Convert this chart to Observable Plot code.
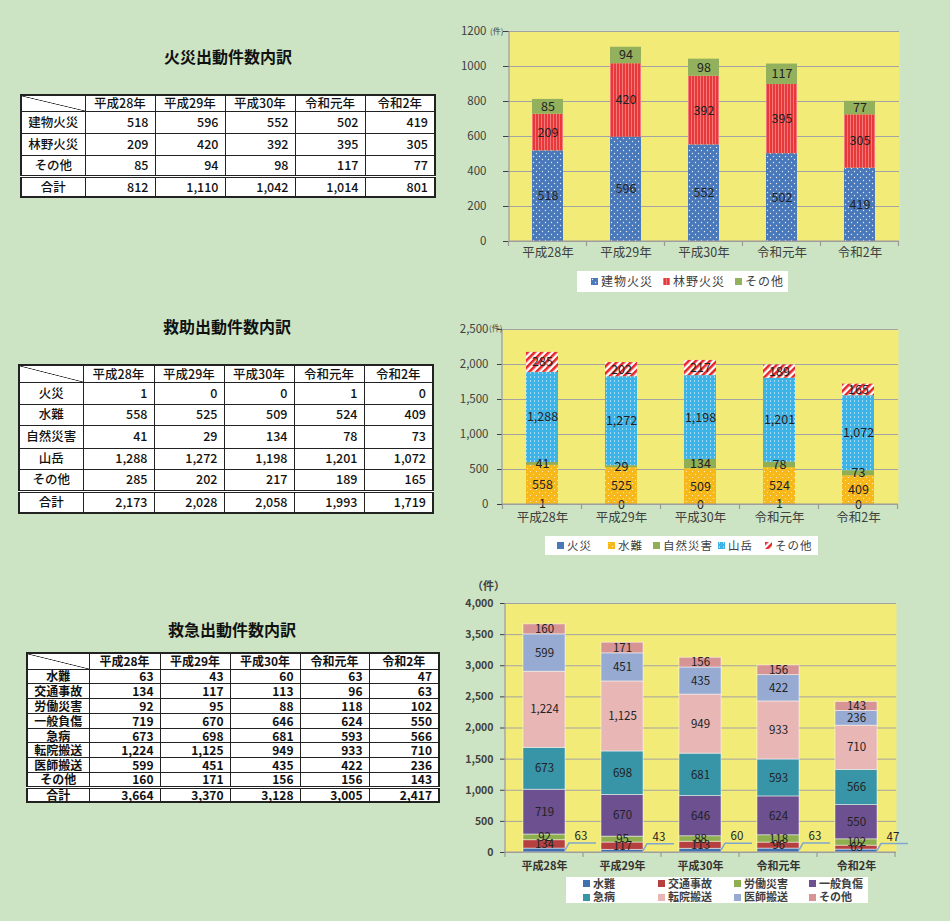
<!DOCTYPE html>
<html><head><meta charset="utf-8">
<script src="https://cdn.jsdelivr.net/npm/d3@7"></script>
<script src="https://cdn.jsdelivr.net/npm/@observablehq/plot@0.6"></script>
<style>
body{margin:0;background:#cce4c3;}
#page{position:relative;width:950px;height:921px;background:#cce4c3;overflow:hidden;font-family:"Noto Sans CJK JP","Noto Sans",sans-serif;}
.title{position:absolute;font-size:16px;font-weight:bold;color:#111;white-space:nowrap;transform:translateX(-50%);line-height:1.2;}
table.t{position:absolute;border-collapse:collapse;table-layout:fixed;background:#fff;border:2px solid #222;color:#111;}
table.t td{border:1px solid #222;padding:0 6px 0 2px;white-space:nowrap;overflow:visible;line-height:1;text-align:right;}
table.t td.c{text-align:center;padding:0;}
table.t tr.total td{border-top:3px double #222;}
table.t td.diag{background:linear-gradient(to top right, transparent calc(50% - 0.7px), #222 50%, transparent calc(50% + 0.7px));}
.chart{position:absolute;}
.legend{position:absolute;background:#fff;}
.legend .it{position:absolute;white-space:nowrap;line-height:1.2;color:#404040;}
.legend svg{position:absolute;}
.unit{position:absolute;white-space:nowrap;color:#404040;line-height:1.2;}
</style></head>
<body>
<svg width="0" height="0" style="position:absolute">
<defs>
<pattern id="dotsBlue" width="6" height="6" patternUnits="userSpaceOnUse">
<rect width="6" height="6" fill="#4a79bb"/>
<circle cx="1.5" cy="1.5" r="0.7" fill="#fff" opacity="0.85"/>
<circle cx="4.5" cy="4.5" r="0.7" fill="#fff" opacity="0.85"/>
</pattern>
<pattern id="redTex" width="3" height="3" patternUnits="userSpaceOnUse">
<rect width="3" height="3" fill="#e8383a"/>
<rect width="1" height="3" fill="#f48a8a" opacity="0.8"/>
</pattern>
<pattern id="dotsOrange" width="6" height="6" patternUnits="userSpaceOnUse">
<rect width="6" height="6" fill="#f6b81a"/>
<circle cx="1.5" cy="1.5" r="0.6" fill="#fff" opacity="0.8"/>
<circle cx="4.5" cy="4.5" r="0.6" fill="#fff" opacity="0.8"/>
</pattern>
<pattern id="dotsCyan" width="4" height="4" patternUnits="userSpaceOnUse">
<rect width="4" height="4" fill="#3cb4e8"/>
<rect x="1" y="0" width="1" height="2" fill="#a9def6" opacity="0.9"/>
</pattern>
<pattern id="redStripes" width="5" height="5" patternUnits="userSpaceOnUse" patternTransform="rotate(45)">
<rect width="5" height="5" fill="#fff"/>
<rect width="2.6" height="5" fill="#e8262a"/>
</pattern>
</defs>
</svg>
<div id="page"></div>
<script>
// ---------- DATA ----------
const years = ["平成28年", "平成29年", "平成30年", "令和元年", "令和2年"];

// 火災
const fireCats = ["建物火災", "林野火災", "その他"];
const fireBuilding = [518, 596, 552, 502, 419];
const fireForest = [209, 420, 392, 395, 305];
const fireOther = [85, 94, 98, 117, 77];
const fireTotal = [812, 1110, 1042, 1014, 801];
const fireTicks = [0, 200, 400, 600, 800, 1000, 1200];

// 救助
const rescueCats = ["火災", "水難", "自然災害", "山岳", "その他"];
const rescueFire = [1, 0, 0, 1, 0];
const rescueWater = [558, 525, 509, 524, 409];
const rescueNatural = [41, 29, 134, 78, 73];
const rescueMountain = [1288, 1272, 1198, 1201, 1072];
const rescueOther = [285, 202, 217, 189, 165];
const rescueTotal = [2173, 2028, 2058, 1993, 1719];
const rescueTicks = [0, 500, 1000, 1500, 2000, 2500];

// 救急
const emsCats = ["水難", "交通事故", "労働災害", "一般負傷", "急病", "転院搬送", "医師搬送", "その他"];
const emsWater = [63, 43, 60, 63, 47];
const emsTraffic = [134, 117, 113, 96, 63];
const emsWork = [92, 95, 88, 118, 102];
const emsInjury = [719, 670, 646, 624, 550];
const emsIllness = [673, 698, 681, 593, 566];
const emsTransfer = [1224, 1125, 949, 933, 710];
const emsDoctor = [599, 451, 435, 422, 236];
const emsOther = [160, 171, 156, 156, 143];
const emsTotal = [3664, 3370, 3128, 3005, 2417];
const emsTicks = [0, 500, 1000, 1500, 2000, 2500, 3000, 3500, 4000];

// ---------- STYLE ----------
const YELLOW = "#f3eb78";
const GRID = "#a3a3a3";
const AXIS = "#9a9a9a";
const FONT = '"Noto Sans CJK JP","Noto Sans",sans-serif';
const fireColors = ["url(#dotsBlue)", "url(#redTex)", "#93b05c"];
const rescueColors = ["#4a79bb", "url(#dotsOrange)", "#92ae54", "url(#dotsCyan)", "url(#redStripes)"];
const emsColors = ["#3f70b2", "#b5403f", "#8eae50", "#6c5090", "#3894a7", "#e7b6b5", "#96aad2", "#d69494"];

const page = document.getElementById("page");
const fmt = d3.format(",");

function longRows(cats, series) {
  const rows = [];
  cats.forEach((c, ci) => years.forEach((y, i) => rows.push({year: y, cat: c, value: series[ci][i]})));
  return rows;
}

function addTitle(text, cx, top) {
  const d = document.createElement("div");
  d.className = "title"; d.textContent = text;
  d.style.left = cx + "px"; d.style.top = top + "px";
  page.appendChild(d);
}

function makeTable(cfg) {
  const t = document.createElement("table");
  t.className = "t";
  t.style.left = cfg.left + "px"; t.style.top = cfg.top + "px";
  t.style.width = d3.sum(cfg.colWidths) + "px";
  t.style.fontSize = cfg.fontSize + "px";
  t.style.fontWeight = cfg.weight;
  const cg = document.createElement("colgroup");
  cfg.colWidths.forEach(w => { const c = document.createElement("col"); c.style.width = w + "px"; cg.appendChild(c); });
  t.appendChild(cg);
  let tr = t.insertRow(); tr.style.height = cfg.headH + "px";
  let td = tr.insertCell(); td.className = "diag c";
  years.forEach(y => { const c = tr.insertCell(); c.className = "c"; c.textContent = y; });
  cfg.cats.forEach((cat, ri) => {
    tr = t.insertRow(); tr.style.height = cfg.rowH[ri] + "px";
    const l = tr.insertCell(); l.className = "c"; l.textContent = cat;
    cfg.series[ri].forEach(v => { const c = tr.insertCell(); c.textContent = fmt(v); });
  });
  tr = t.insertRow(); tr.className = "total"; tr.style.height = cfg.totalH + "px";
  const l = tr.insertCell(); l.className = "c"; l.textContent = "合計";
  cfg.total.forEach(v => { const c = tr.insertCell(); c.textContent = fmt(v); });
  page.appendChild(t);
}

// axis decoration: left/bottom lines and category boundary ticks
function decor(scales, dims) {
  const {width, height, marginLeft, marginRight, marginTop, marginBottom} = dims;
  const x0 = marginLeft, x1 = width - marginRight, yb = height - marginBottom;
  const g = d3.create("svg:g").attr("stroke", AXIS).attr("stroke-width", 1.2);
  g.append("line").attr("x1", x0).attr("x2", x0).attr("y1", marginTop).attr("y2", yb);
  g.append("line").attr("x1", x0).attr("x2", x1).attr("y1", yb).attr("y2", yb);
  const xs = scales.x, step = xs.step(), bw = xs.bandwidth();
  const bounds = years.map(y => xs(y) + bw / 2 - step / 2);
  bounds.push(xs(years[years.length - 1]) + bw / 2 + step / 2);
  bounds.forEach(b => g.append("line").attr("x1", b).attr("x2", b).attr("y1", yb).attr("y2", yb + 5));
  return g;
}

function addChart(node, left, top) {
  const d = document.createElement("div");
  d.className = "chart"; d.style.left = left + "px"; d.style.top = top + "px";
  d.appendChild(node);
  page.appendChild(d);
}

function addLegend(cfg) {
  const box = document.createElement("div");
  box.className = "legend";
  Object.assign(box.style, {left: cfg.left + "px", top: cfg.top + "px", width: cfg.width + "px", height: cfg.height + "px"});
  cfg.cats.forEach((c, i) => {
    const [sx, sy] = cfg.pos[i];
    const s = document.createElementNS("http://www.w3.org/2000/svg", "svg");
    s.setAttribute("width", 7); s.setAttribute("height", 7);
    s.style.left = sx + "px"; s.style.top = (sy - 3.5) + "px";
    const r = document.createElementNS("http://www.w3.org/2000/svg", "rect");
    r.setAttribute("width", 7); r.setAttribute("height", 7); r.setAttribute("fill", cfg.colors[i]);
    s.appendChild(r); box.appendChild(s);
    const t = document.createElement("div");
    t.className = "it"; t.textContent = c;
    Object.assign(t.style, {left: (sx + 10) + "px", top: (sy - cfg.fontSize * 0.6) + "px", fontSize: cfg.fontSize + "px", fontWeight: cfg.weight || "normal", letterSpacing: (cfg.spacing || 0) + "px"});
    box.appendChild(t);
  });
  page.appendChild(box);
}

function addUnit(text, left, top, size, weight) {
  const d = document.createElement("div");
  d.className = "unit"; d.textContent = text;
  Object.assign(d.style, {left: left + "px", top: top + "px", fontSize: size + "px", fontWeight: weight || "normal"});
  page.appendChild(d);
}

// ---------- SECTION 1: 火災 ----------
addTitle("火災出動件数内訳", 228, 47);
makeTable({left: 20, top: 94, colWidths: [64, 70, 70, 70, 70, 70], headH: 16, rowH: [22, 22, 21], totalH: 21,
  cats: fireCats, series: [fireBuilding, fireForest, fireOther], total: fireTotal, fontSize: 12.5, weight: 500});

const fireRows = longRows(fireCats, [fireBuilding, fireForest, fireOther]);
const chart1 = Plot.plot({
  width: 470, height: 246, marginLeft: 64, marginRight: 16, marginTop: 11, marginBottom: 25,
  style: {background: "transparent", fontFamily: FONT, fontSize: "11.5px", color: "#404040", overflow: "visible"},
  x: {domain: years, paddingInner: 0.6, paddingOuter: 0.3, axis: null},
  y: {domain: [0, 1200], ticks: fireTicks, tickFormat: d3.format("d"), label: null, tickSize: 6, tickPadding: 17},
  color: {domain: fireCats, range: fireColors},
  marks: [
    Plot.frame({fill: YELLOW, stroke: null}),
    Plot.ruleY(fireTicks, {stroke: GRID}),
    Plot.barY(fireRows, Plot.stackY({x: "year", y: "value", fill: "cat"})),
    Plot.text(fireRows, Plot.stackY({x: "year", y: "value", z: "cat", text: "value", fill: "#222", fontSize: 12.5})),
    Plot.text(years, {x: d => d, frameAnchor: "bottom", dy: 15, fontSize: 12.5, fill: "#404040"}),
    (index, scales, values, dims) => decor(scales, dims).node()
  ]
});
addChart(chart1, 445, 20);
addUnit("(件)", 490, 26, 8);
addLegend({left: 577, top: 271, width: 211, height: 21, cats: fireCats, colors: fireColors,
  pos: [[14, 10.5], [86, 10.5], [158, 10.5]], fontSize: 12, spacing: 1});

// ---------- SECTION 2: 救助 ----------
addTitle("救助出動件数内訳", 227, 317);
makeTable({left: 18, top: 364, colWidths: [64, 71, 70, 70, 70, 69], headH: 17, rowH: [22, 21, 23, 21, 22], totalH: 22,
  cats: rescueCats, series: [rescueFire, rescueWater, rescueNatural, rescueMountain, rescueOther], total: rescueTotal, fontSize: 12.5, weight: 500});

const rescueRows = longRows(rescueCats, [rescueFire, rescueWater, rescueNatural, rescueMountain, rescueOther]);
const chart2 = Plot.plot({
  width: 465, height: 209, marginLeft: 57, marginRight: 12, marginTop: 9, marginBottom: 25,
  style: {background: "transparent", fontFamily: FONT, fontSize: "11.5px", color: "#404040", overflow: "visible"},
  x: {domain: years, paddingInner: 0.6, paddingOuter: 0.3, axis: null},
  y: {domain: [0, 2500], ticks: rescueTicks, tickFormat: d3.format(","), label: null, tickSize: 5, tickPadding: 9},
  color: {domain: rescueCats, range: rescueColors},
  marks: [
    Plot.frame({fill: YELLOW, stroke: null}),
    Plot.ruleY(rescueTicks, {stroke: GRID}),
    Plot.barY(rescueRows, Plot.stackY({x: "year", y: "value", fill: "cat"})),
    Plot.text(rescueRows, Plot.stackY({x: "year", y: "value", z: "cat", text: d => fmt(d.value), fill: "#222", fontSize: 12.5})),
    Plot.text(years, {x: d => d, frameAnchor: "bottom", dy: 17, fontSize: 12.5, fill: "#404040"}),
    (index, scales, values, dims) => decor(scales, dims).node()
  ]
});
addChart(chart2, 445, 320);
addUnit("(件)", 489, 323, 8);
addLegend({left: 545, top: 536, width: 273, height: 19, cats: rescueCats, colors: rescueColors,
  pos: [[12, 9.5], [63, 9.5], [108, 9.5], [173, 9.5], [220, 9.5]], fontSize: 11.5, spacing: 1});

// ---------- SECTION 3: 救急 ----------
addTitle("救急出動件数内訳", 232, 620);
makeTable({left: 26, top: 652, colWidths: [62, 71, 70, 70, 69, 70], headH: 16, rowH: [14.8, 14.8, 14.8, 14.8, 14.8, 14.8, 14.8, 14.8], totalH: 14.8,
  cats: emsCats, series: [emsWater, emsTraffic, emsWork, emsInjury, emsIllness, emsTransfer, emsDoctor, emsOther], total: emsTotal, fontSize: 12, weight: "bold"});

const emsRows = longRows(emsCats, [emsWater, emsTraffic, emsWork, emsInjury, emsIllness, emsTransfer, emsDoctor, emsOther]);
function emsLeaders(index, scales, values, dims) {
  const root = d3.create("svg:g");
  root.node().appendChild(decor(scales, dims).node());
  const xs = scales.x, ys = scales.y, bw = xs.bandwidth();
  const lg = root.append("g");
  years.forEach((yr, i) => {
    const v = emsWater[i];
    const bx = xs(yr) + bw, y0 = ys(v / 2);
    lg.append("path").attr("d", `M${bx},${y0}L${bx + 4},${y0 - 7}L${bx + 31},${y0 - 7}`)
      .attr("fill", "none").attr("stroke", "#7fa6cc").attr("stroke-width", 1.5);
    lg.append("text").attr("x", bx + 16).attr("y", y0 - 14).attr("dy", "0.35em")
      .attr("text-anchor", "middle").attr("font-size", 11.5).attr("font-weight", "normal")
      .attr("fill", "#222").attr("stroke", "none").text(v);
  });
  return root.node();
}
const chart3 = Plot.plot({
  width: 460, height: 283, marginLeft: 60, marginRight: 9, marginTop: 8, marginBottom: 26,
  style: {background: "transparent", fontFamily: FONT, fontSize: "10.5px", fontWeight: "bold", color: "#404040", overflow: "visible"},
  x: {domain: years, paddingInner: 0.46, paddingOuter: 0.23, axis: null},
  y: {domain: [0, 4000], ticks: emsTicks, tickFormat: d3.format(","), label: null, tickSize: 5, tickPadding: 7},
  color: {domain: emsCats, range: emsColors},
  marks: [
    Plot.frame({fill: YELLOW, stroke: null}),
    Plot.ruleY(emsTicks, {stroke: GRID}),
    Plot.barY(emsRows, Plot.stackY({x: "year", y: "value", fill: "cat", stroke: "#ffffff", strokeWidth: 0.8, strokeOpacity: 0.6})),
    Plot.text(emsRows, Plot.stackY({x: "year", y: "value", z: "cat", text: d => d.cat === "水難" ? "" : fmt(d.value), fill: "#222", fontSize: 11.5, fontWeight: "normal"})),
    Plot.text(years, {x: d => d, frameAnchor: "bottom", dy: 17, fontSize: 11, fontWeight: "bold", fill: "#333"}),
    emsLeaders
  ]
});
addChart(chart3, 445, 595);
addUnit("（件）", 472, 579, 11, "bold");
addLegend({left: 566, top: 877, width: 302, height: 26, cats: emsCats, colors: emsColors,
  pos: [[17, 6.5], [92, 6.5], [168, 6.5], [243, 6.5], [17, 20], [92, 20], [168, 20], [243, 20]], fontSize: 11, weight: "bold"});
</script>
</body></html>
